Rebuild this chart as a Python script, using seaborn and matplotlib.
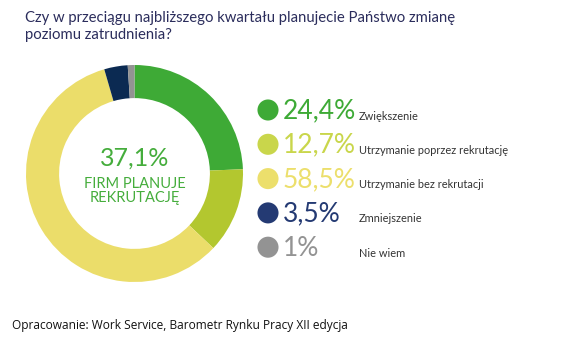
import matplotlib
matplotlib.use("Agg")
import matplotlib.pyplot as plt
import seaborn as sns
import pandas as pd

categories = ["Zwiększenie", "Utrzymanie poprzez rekrutację", "Utrzymanie bez rekrutacji",
              "Zmniejszenie", "Nie wiem"]
values = [24.4, 12.7, 58.5, 3.5, 1.0]
value_labels = ["24,4%", "12,7%", "58,5%", "3,5%", "1%"]
ring_colors = ["#3EAA36", "#B3C72F", "#EBDD6A", "#0B2A52", "#939393"]
legend_colors = ["#3EAA36", "#C9D64B", "#ECDF6C", "#243A73", "#939393"]
center_value = "37,1%"
center_text = "FIRM PLANUJE\nREKRUTACJĘ"
title = "Czy w przeciągu najbliższego kwartału planujecie Państwo zmianę\npoziomu zatrudnienia?"
footer = "Opracowanie: Work Service, Barometr Rynku Pracy XII edycja"

sns.set_theme(style="white")
plt.rcParams['font.family'] = ['Lato', 'DejaVu Sans']

W, H = 567, 350
fig = plt.figure(figsize=(W / 100, H / 100), dpi=100)
fig.patch.set_facecolor("white")

# donut
cx, cy, r = 134.5, 173.5, 108.5
ax = fig.add_axes([(cx - r) / W, (H - cy - r) / H, 2 * r / W, 2 * r / H])
ax.pie(values, colors=ring_colors, startangle=90, counterclock=False,
       radius=1.0, wedgeprops=dict(width=0.305, edgecolor="none"))
ax.set_xlim(-1, 1)
ax.set_ylim(-1, 1)
ax.set_aspect("equal")
ax.axis("off")
ax.text(0, 0.14, center_value, ha="center", va="center", fontsize=18,
        color="#45AD3C")
ax.text(0, -0.16, center_text, ha="center", va="center", fontsize=10.5,
        color="#45AD3C", linespacing=1.05)

# overlay in pixel coordinates
ov = fig.add_axes([0, 0, 1, 1])

ys = [110 + 34.3 * i for i in range(len(categories))]
df = pd.DataFrame({"x": [268] * len(categories), "y": ys, "cat": categories})
sns.scatterplot(data=df, x="x", y="y", hue="cat", palette=legend_colors,
                s=230, edgecolor="none", legend=False, ax=ov)
ov.set_xlim(0, W)
ov.set_ylim(H, 0)
ov.axis("off")

for y, lab, vl, c in zip(ys, categories, value_labels, legend_colors):
    ov.text(283, y + 1, vl, ha="left", va="center", fontsize=19, color=c)
    ov.text(359, y + 6, lab, ha="left", va="center", fontsize=7.9, color="#333333")

ov.text(25, 26.5, title, ha="left", va="center", fontsize=10.7, color="#2B2D5C",
        linespacing=1.3)
ov.text(12, 326, footer, ha="left", va="center", fontsize=8.6, color="#111111",
        family=["Open Sans", "DejaVu Sans"])

fig.savefig("out.png", dpi=100, facecolor="white")
